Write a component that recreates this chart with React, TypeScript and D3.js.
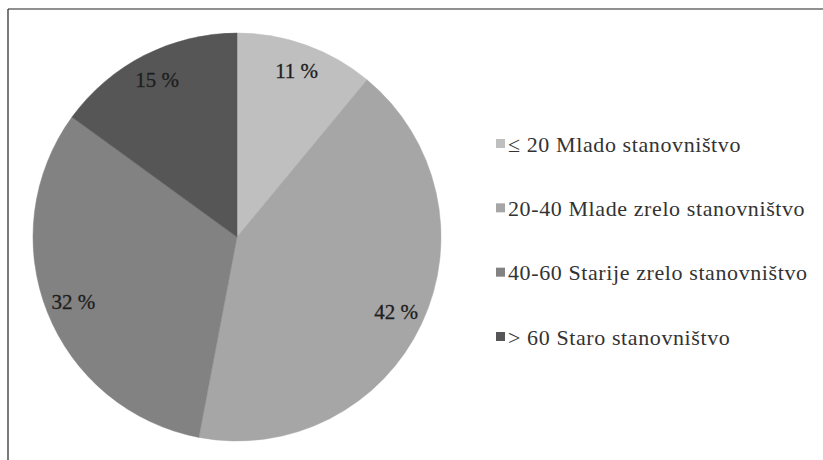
import React from 'react';
import * as d3 from 'd3';

// age groups and their shares (%)
const groups = [
  '≤ 20 Mlado stanovništvo',
  '20-40 Mlade zrelo stanovništvo',
  '40-60 Starije zrelo stanovništvo',
  '> 60 Staro stanovništvo',
];
const shares = [11, 42, 32, 15];
const colors = ['#bfbfbf', '#a6a6a6', '#828282', '#565656'];

const W = 823;
const H = 460;
const cx = 237;
const cy = 237;
const radius = 204;
const labelRadius = 176;
const serif = 'Liberation Serif, DejaVu Serif, serif';

const App = () => {
  const pie = d3
    .pie<number>()
    .sort(null)
    .value((d) => d);
  const arcs = pie(shares);

  const arc = d3.arc<d3.PieArcDatum<number>>().innerRadius(0).outerRadius(radius);
  const labelArc = d3
    .arc<d3.PieArcDatum<number>>()
    .innerRadius(labelRadius)
    .outerRadius(labelRadius);

  // legend rows
  const legendY = d3.scalePoint<number>().domain(d3.range(groups.length)).range([144, 337]);

  return (
    <svg
      width={W}
      height={H}
      style={{ position: 'absolute', left: 0, top: 0, background: '#fff' }}
    >
      <line x1={8} y1={9} x2={W} y2={9} stroke='#222' strokeWidth={1.2} />
      <line x1={8} y1={9} x2={8} y2={H} stroke='#222' strokeWidth={1.2} />

      <g transform={`translate(${cx},${cy})`}>
        {arcs.map((a, i) => (
          <path key={i} d={arc(a) || ''} fill={colors[i]} stroke={colors[i]} strokeWidth={0.5} />
        ))}
        {arcs.map((a, i) => {
          const [x, y] = labelArc.centroid(a);
          return (
            <text
              key={'l' + i}
              x={x}
              y={y}
              textAnchor='middle'
              dominantBaseline='central'
              fontFamily={serif}
              fontSize={21}
              fill='#1e1e1e'
              stroke='#1e1e1e'
              strokeWidth={0.3}
            >
              {`${shares[i]} %`}
            </text>
          );
        })}
      </g>

      <g>
        {groups.map((g, i) => (
          <g key={g} transform={`translate(496,${legendY(i)})`}>
            <rect x={0} y={-5} width={9} height={9} fill={colors[i]} />
            <text
              x={12}
              y={0}
              dominantBaseline='central'
              fontFamily={serif}
              fontSize={22}
              fill='#333'
              letterSpacing={0.6}
            >
              {g}
            </text>
          </g>
        ))}
      </g>
    </svg>
  );
};

export default App;
